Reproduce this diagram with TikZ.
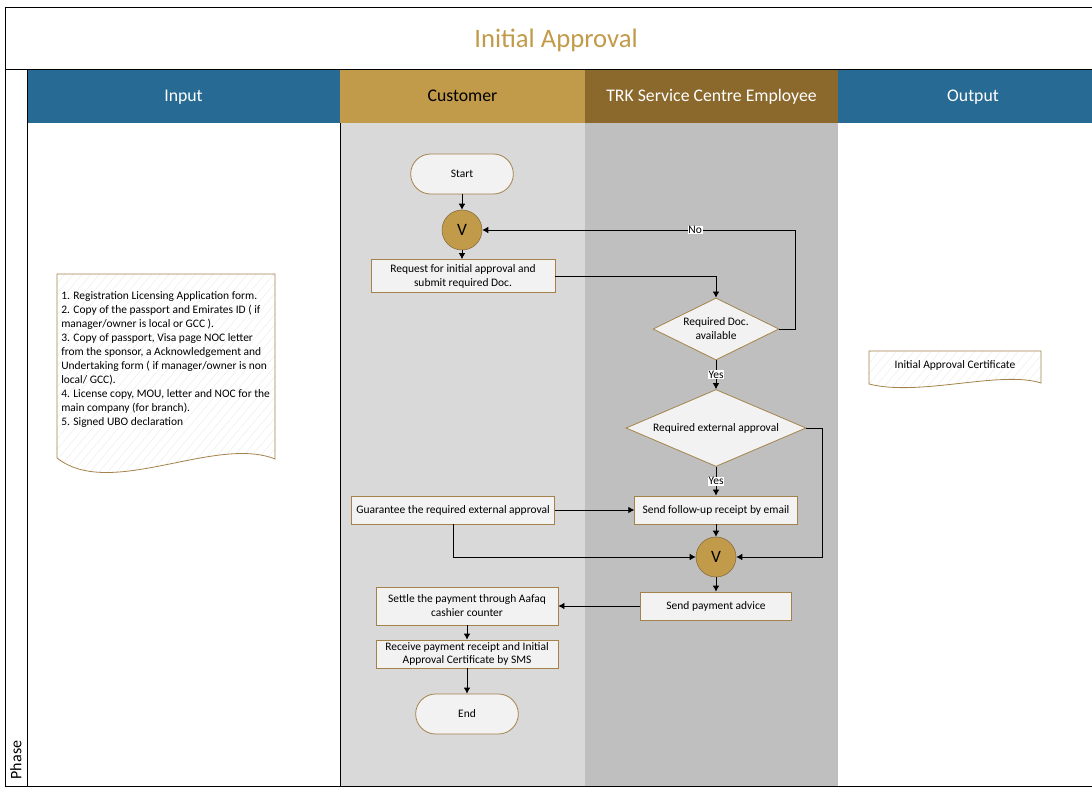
\documentclass[tikz,border=0pt]{standalone}
\usepackage{fontspec}
\setmainfont{Carlito}
\usetikzlibrary{shapes.geometric,arrows.meta,patterns.meta}
\definecolor{hdblue}{HTML}{276A93}
\definecolor{hdgold}{HTML}{C19A4A}
\definecolor{hdbrown}{HTML}{8B682B}
\definecolor{lanegray}{HTML}{D9D9D9}
\definecolor{lanedark}{HTML}{BFBFBF}
\definecolor{boxfill}{HTML}{F2F2F2}
\definecolor{boxline}{HTML}{A4834A}

\begin{document}
\begin{tikzpicture}[x=0.75pt,y=-0.75pt,every node/.style={font=\fontsize{8.6}{10.5}\selectfont}]
\tikzstyle{proc}=[draw=boxline,fill=boxfill,align=center,inner sep=1pt,line width=0.6pt]
\tikzstyle{term}=[proc,rounded corners=15pt,minimum width=77pt,minimum height=30pt]
\tikzstyle{dec}=[proc,diamond,inner sep=0pt]
\tikzstyle{merge}=[circle,draw=boxline!80!black,fill=hdgold,minimum size=30pt,inner sep=0pt,font=\fontsize{13}{15}\selectfont]
\tikzstyle{arr}=[-{Latex[length=4.5pt,width=5pt]},line width=0.6pt]
\tikzstyle{lbl}=[fill=white,inner sep=0.5pt]
\tikzstyle{hd}=[font=\fontsize{13.3}{16}\selectfont,anchor=base]
\tikzstyle{docu}=[draw=boxline,line width=0.6pt,preaction={fill=white},pattern={Lines[angle=50,distance=5pt,line width=0.3pt]},pattern color=black!8]

\useasboundingbox (0,0) rectangle (1092,787);

% lanes and headers
\fill[lanegray] (340,123) rectangle (585,786);
\fill[lanedark] (585,123) rectangle (838,786);
\fill[hdblue] (27,69) rectangle (340,123);
\fill[hdgold] (340,69) rectangle (585,123);
\fill[hdbrown] (585,69) rectangle (838,123);
\fill[hdblue] (838,69) rectangle (1092,123);
\node[hd,text=white] (hin) at (183.5,102) {Input};
\node[hd] (hcust) at (462.5,102) {Customer};
\node[hd,text=white] (htrk) at (711.5,102) {TRK Service Centre Employee};
\node[hd,text=white] (hout) at (973,102) {Output};

\draw[line width=0.6pt] (1092,7) -- (5,7) -- (5,786) -- (1092,786);
\draw[line width=0.6pt] (5,69) -- (1092,69);
\draw[line width=0.6pt] (27,69) -- (27,786);
\draw[line width=0.6pt] (340,123) -- (340,786);

\node[text=hdgold,font=\fontsize{20}{24}\selectfont] (title) at (556,40) {Initial Approval};
\node[rotate=90,anchor=west,font=\fontsize{12}{14}\selectfont] (phase) at (16,784) {Phase};

% documents
\draw[docu] (57,274) -- (275,274) -- (275,459) .. controls (215,435) and (110,500) .. (57,458) -- cycle;
\node[anchor=north west,align=left,inner sep=0pt] (indoc) at (61,291) {1. Registration Licensing Application form.\\
2. Copy of the passport and Emirates ID ( if\\
manager/owner is local or GCC ).\\
3. Copy of passport, Visa page NOC letter\\
from the sponsor, a Acknowledgement and\\
Undertaking form ( if manager/owner is non\\
local/ GCC).\\
4. License copy, MOU, letter and NOC for the\\
main company (for branch).\\
5. Signed UBO declaration};

\draw[docu] (869,351) -- (1041,351) -- (1041,383) .. controls (1000,370) and (920,397) .. (869,384) -- cycle;
\node (outdoc) at (955,365) {Initial Approval Certificate};

% flow
\node[term] (start) at (462,174) {Start};
\node[merge] (v1) at (462,230) {V};
\node[proc,minimum width=138pt,minimum height=24.75pt] (req) at (463,276) {Request for initial approval and\\submit required Doc.};
\node[dec,shape aspect=2.03,minimum width=94.5pt,minimum height=46.5pt] (doc) at (716,329) {Required Doc.\\available};
\node[dec,shape aspect=2.34,minimum width=135pt,minimum height=57.75pt] (ext) at (716,428) {Required external approval};
\node[proc,minimum width=122pt,minimum height=21pt] (follow) at (716,510) {Send follow-up receipt by email};
\node[proc,minimum width=152pt,minimum height=21pt] (guar) at (453,510) {Guarantee the required external approval};
\node[merge] (v2) at (716,557) {V};
\node[proc,minimum width=113pt,minimum height=21pt] (pay) at (716,606) {Send payment advice};
\node[proc,minimum width=136.5pt,minimum height=28.5pt] (settle) at (467,606) {Settle the payment through Aafaq\\cashier counter};
\node[proc,minimum width=136.5pt,minimum height=21pt,inner sep=0.5pt,font=\fontsize{8.6}{9.8}\selectfont] (recv) at (467,654) {Receive payment receipt and Initial\\Approval Certificate by SMS};
\node[term] (end) at (467,714) {End};

\draw[arr] (start) -- (v1);
\draw[arr] (v1.south) -- (v1.south |- req.north);
\draw[arr] (req.east) -| (doc.north);
\draw[arr] (doc.east) -- ++(16,0) |- node[lbl,pos=0.66]{No} (v1.east);
\draw[arr] (doc) -- node[lbl]{Yes} (ext);
\draw[arr] (ext) -- node[lbl]{Yes} (follow);
\draw[arr] (ext.east) -- ++(16,0) |- (v2.east);
\draw[arr] (guar) -- (follow);
\draw[arr] (guar.south) |- (v2.west);
\draw[arr] (follow) -- (v2);
\draw[arr] (v2) -- (pay);
\draw[arr] (pay) -- (settle);
\draw[arr] (settle) -- (recv);
\draw[arr] (recv) -- (end);
\end{tikzpicture}
\end{document}
